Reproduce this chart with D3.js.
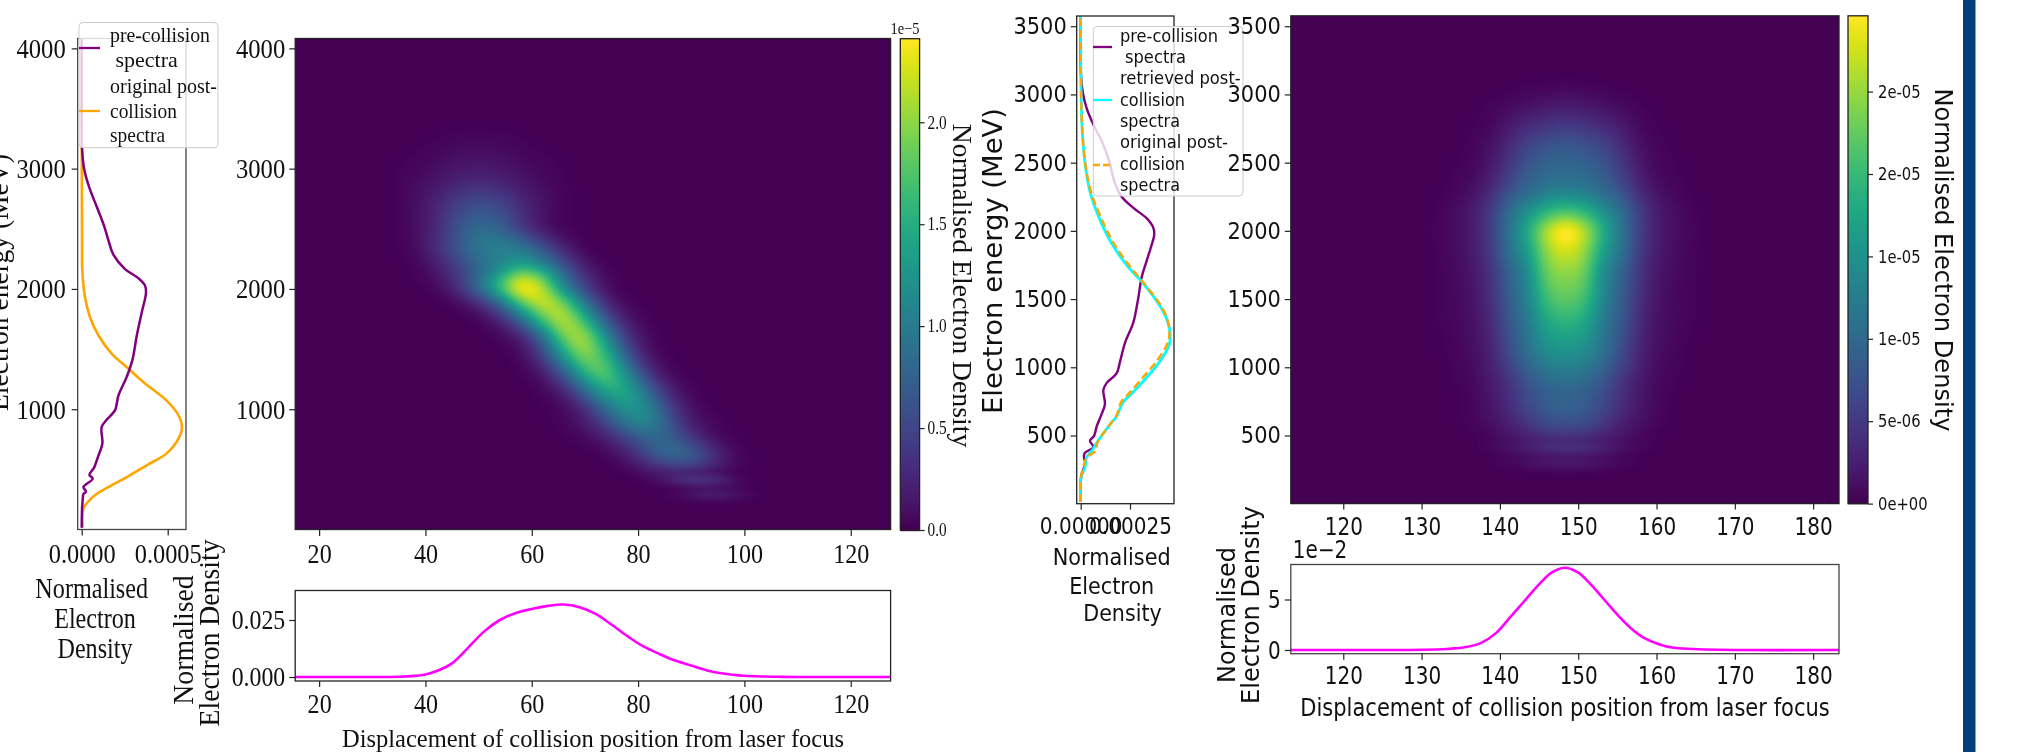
<!DOCTYPE html>
<html><head><meta charset="utf-8">
<script src="https://cdnjs.cloudflare.com/ajax/libs/d3/7.8.5/d3.min.js"></script>
<style>html,body{margin:0;padding:0;background:#fff}svg{display:block}</style>
</head><body>
<svg id="c" width="2021" height="752"></svg>
<script>
/* ---------- LEFT FIGURE ---------- */
const aSpecE   = [15,175,215,247,295,314,354,422,454,514,614,713,852,912,992,1112,1270,1410,1610,1810,1968,2028,2088,2165,2285,2405,2525,2685,2840,3000,3170,3400,4080];
const aPre     = [0,.000002,.000004,.000006,.00001,.000025,.00001,.000064,.000045,.000072,.000097,.00012,.000116,.000145,.000194,.000213,.000262,.000295,.00032,.00035,.000374,.000368,.00033,.000252,.000184,.000155,.00013,.000087,.000045,.000014,.000002,0,0];
const aPostE   = [15,175,247,295,434,534,633,753,852,952,1080,1213,1338,1462,1615,1767,1933,2154,2400,2800,4080];
const aPost    = [.000006,.00001,.000048,.000087,.00026,.000378,.000494,.000562,.000583,.000562,.000488,.000368,.000271,.000174,.000097,.000048,.000019,.0000035,.000002,.000001,0];
const aLineX   = [15.5,30,35,38,40,42,45,48,51,54,57,60,63,66,69,72,75,78,81,84,87,90,93,96,99,102,106,110,127.5];
const aLineV   = [0,0,.0001,.0005,.0011,.0025,.006,.0128,.0199,.025,.0281,.0298,.0312,.0318,.0306,.0277,.023,.0179,.0134,.0101,.0072,.005,.0029,.0015,.0007,.0003,.0001,0,0];
const aHeatX   = [34,38,42,46,50,54,58,62,66,70,74,78,82,86,90,94,98,102,106,110];
const aHeatE   = [180,230,290,350,410,470,550,650,760,880,1000,1150,1300,1450,1600,1750,1900,2000,2100,2200,2350,2500,2700,2900,3100,3300,3500];
const aHeat = [ /* 1e-5, one row per aHeatE, one column per aHeatX */
[0,0,0,0,0,0,0,0,0,0,0,0,0,0,0,0,0,0,0,0],
[0,0,0,0,0,0,0,0,0,0,0,0,0,0,0,.01,0,0,0,0],
[0,0,0,0,0,0,0,0,0,0,0,0,0,.04,.15,.24,.15,.03,0,0],
[0,0,0,0,0,0,0,0,0,0,0,0,0,0,.03,.03,.02,0,0,0],
[0,0,0,0,0,0,0,0,0,0,0,0,.05,.22,.42,.38,.11,.01,0,0],
[0,0,0,0,0,0,0,0,0,0,0,.03,.12,.18,.16,.08,.02,0,0,0],
[0,0,0,0,0,0,0,0,0,0,.02,.1,.3,.51,.51,.28,.07,.01,0,0],
[0,0,0,0,0,0,0,0,0,.01,.06,.25,.59,.82,.67,.3,.06,.01,0,0],
[0,0,0,0,0,0,0,0,.01,.05,.19,.47,.7,.68,.35,.1,.02,0,0,0],
[0,0,0,0,0,0,0,.01,.04,.17,.48,.89,1.05,.6,.2,.05,.01,0,0,0],
[0,0,0,0,0,0,0,.01,.06,.29,.78,1.2,1.04,.45,.1,.02,0,0,0,0],
[0,0,0,0,0,0,0,.04,.23,.75,1.35,1.35,.75,.23,.04,0,0,0,0,0],
[0,0,0,0,0,0,.02,.16,.66,1.46,1.72,1.06,.35,.06,.01,0,0,0,0,0],
[0,0,0,0,0,.01,.08,.45,1.27,1.89,1.49,.62,.13,.02,0,0,0,0,0,0],
[0,0,0,0,0,.05,.22,.8,1.8,1.98,1.1,.36,.06,0,0,0,0,0,0,0],
[0,0,0,0,.05,.25,.8,1.65,2.1,1.45,.6,.15,.02,0,0,0,0,0,0,0],
[0,0,0,.07,.3,.85,1.75,2.17,1.75,.85,.25,.03,0,0,0,0,0,0,0,0],
[0,.01,.06,.3,.85,1.6,2.38,2.05,1.1,.45,.1,0,0,0,0,0,0,0,0,0],
[0,.02,.1,.35,.77,1.4,2.05,1.75,.85,.34,.07,0,0,0,0,0,0,0,0,0],
[.01,.03,.18,.45,.77,1,1.3,1,.55,.15,.02,0,0,0,0,0,0,0,0,0],
[.01,.07,.3,.6,.92,1,.9,.55,.2,.02,0,0,0,0,0,0,0,0,0,0],
[.01,.08,.26,.57,.79,.72,.4,.14,.03,.01,0,0,0,0,0,0,0,0,0,0],
[.02,.09,.23,.43,.55,.48,.28,.12,.03,.01,0,0,0,0,0,0,0,0,0,0],
[.02,.06,.13,.21,.25,.21,.13,.06,.02,0,0,0,0,0,0,0,0,0,0,0],
[.01,.02,.05,.09,.1,.09,.05,.02,.01,0,0,0,0,0,0,0,0,0,0,0],
[0,0,.01,.02,.02,.02,.01,0,0,0,0,0,0,0,0,0,0,0,0,0],
[0,0,0,0,0,0,0,0,0,0,0,0,0,0,0,0,0,0,0,0]];
const aCbTicks = [0,.5,1,1.5,2];
const aEnergyTicks = [1000,2000,3000,4000];
const aXTicks  = [20,40,60,80,100,120];

/* ---------- RIGHT FIGURE ---------- */
const bPreE    = [12,207,296,335,371,416,461,497,566,656,730,835,886,955,1045,1180,1329,1509,1659,1778,1898,1973,2024,2093,2168,2250,2347,2510,2660,2780,2900,3020,3186,3575];
const bPre     = [0,.000003,.000024,.000017,.00002,.000064,.000047,.000068,.000081,.000106,.000123,.000115,.000132,.000182,.0002,.000225,.000267,.000292,.000309,.000334,.00036,.000373,.000368,.000334,.000267,.000208,.000174,.000145,.000106,.000064,.00003,.00001,0,0];
const bRetE    = [12,192,266,341,386,446,581,641,745,820,925,1045,1165,1240,1344,1449,1614,1748,1928,2108,2287,2497,2737,3006,3575];
const bRet     = [0,.000002,.000022,.00003,.000056,.000081,.000149,.000182,.000216,.000267,.000334,.000402,.000449,.000454,.000439,.000402,.000318,.000233,.000149,.00009,.000047,.000022,.000008,.000002,0];
const bOrig    = [0,.000002,.000012,.000032,.000075,.000085,.000148,.00018,.000205,.000252,.000315,.000385,.000437,.00045,.000441,.000408,.000322,.000245,.00016,.0001,.000052,.000023,.000008,.000002,0];
const bLineX   = [113.3,125,130,133.2,135.7,137.6,139.5,141.4,143.3,145.2,146.7,148.3,149.9,151.4,153.3,155.2,157.1,158.4,160.3,162,164.6,167.8,183.3];
const bLineV   = [0,0,.02,.1,.29,.71,1.67,3.33,5,6.67,7.7,8.14,7.7,6.67,5,3.33,1.9,1.2,.57,.24,.1,.02,0];
const bHeatCentre = 148.4;
const bHeatOffsets = [0,2.4,4.8,7.2,9.6,12,14.4,16.8,19.2];
const bHeatE  = [180,230,285,350,400,460,520,600,700,800,900,1000,1100,1250,1400,1550,1700,1850,2000,2150,2300,2450,2600,2750,2900,3050,3200];
const bHeat = [ /* 1e-5, half profile from the ridge outwards, mirrored to both sides */
[0,0,0,0,0,0,0,0,0],
[.03,.02,.01,0,0,0,0,0,0],
[.22,.19,.13,.06,.02,0,0,0,0],
[.14,.12,.08,.04,.01,0,0,0,0],
[.45,.4,.28,.15,.06,.01,0,0,0],
[.3,.27,.2,.11,.05,.01,0,0,0],
[.5,.47,.33,.2,.07,.02,0,0,0],
[.74,.68,.47,.27,.12,.04,.01,0,0],
[.89,.83,.62,.36,.16,.05,.01,0,0],
[.92,.86,.68,.38,.18,.05,.01,0,0],
[1.07,1,.77,.44,.2,.07,.02,0,0],
[1.27,1.18,.92,.56,.25,.08,.03,0,0],
[1.48,1.39,1.07,.65,.27,.1,.03,.01,0],
[1.72,1.6,1.15,.74,.31,.12,.05,.01,0],
[2.01,1.84,1.24,.8,.35,.13,.06,.02,0],
[2.25,2.07,1.36,.86,.4,.15,.06,.02,0],
[2.43,2.25,1.42,.92,.42,.17,.07,.02,0],
[2.72,2.43,1.63,1.07,.49,.2,.08,.02,0],
[2.96,2.55,1.78,1.1,.52,.21,.09,.03,0],
[2.01,1.84,1.42,1.01,.49,.2,.08,.02,0],
[1.24,1.18,.98,.7,.33,.12,.04,.01,0],
[1,.95,.8,.5,.2,.06,.02,0,0],
[.83,.77,.62,.37,.14,.04,.01,0,0],
[.53,.47,.38,.22,.07,.02,0,0,0],
[.24,.21,.15,.09,.03,.01,0,0,0],
[.06,.04,.03,.01,0,0,0,0,0],
[0,0,0,0,0,0,0,0,0]];
const bCbTicks = [0,.5,1,1.5,2,2.5];
const bCbLabels = ["0e+00","5e-06","1e-05","1e-05","2e-05","2e-05"];
const bEnergyTicks = [500,1000,1500,2000,2500,3000,3500];
const bXTicks  = [120,130,140,150,160,170,180];

const SERIF = "'Liberation Serif'", SANS = "'DejaVu Sans'";
const svg = d3.select("#c");
const root = svg.append("g").style("filter","blur(0.45px)");

/* helpers */
function squeeze(sel, factor){ sel.each(function(){ const l=this.getComputedTextLength();
  d3.select(this).attr("textLength",l*factor).attr("lengthAdjust","spacingAndGlyphs"); }); }
function label(t,cx,cy,o){
  const s=root.append("text").text(t).attr("text-anchor",o.anchor||"middle").attr("dominant-baseline","central")
    .attr("font-family",o.family).attr("font-size",o.size).attr("fill","#111").style("white-space","pre")
    .attr("transform",`translate(${cx},${cy})`+(o.rotate?` rotate(${o.rotate})`:""));
  if(o.width) s.attr("textLength",o.width).attr("lengthAdjust","spacingAndGlyphs");
  return s;
}
function frame(x0,y0,x1,y1,col){ root.append("rect").attr("x",x0).attr("y",y0).attr("width",x1-x0).attr("height",y1-y0)
  .attr("fill","none").attr("stroke",col||"#222").attr("stroke-width",1.3); }
function axis(gen,tx,ty,o){
  const g=root.append("g").attr("transform",`translate(${tx},${ty})`).call(gen.tickSize(o.len||6).tickPadding(o.pad||4));
  g.select(".domain").remove();
  g.selectAll("line").attr("stroke",o.tick||"#222").attr("stroke-width",1.2);
  g.selectAll("text").attr("font-family",o.family).attr("font-size",o.size).attr("fill","#111");
  if(o.squeeze) squeeze(g.selectAll("text"),o.squeeze);
  return g;
}
/* smooth (Catmull-Rom) sampling of a read-off grid */
function cr(p0,p1,p2,p3,t){ return .5*(2*p1+(p2-p0)*t+(2*p0-5*p1+4*p2-p3)*t*t+(3*p1-p0-3*p2+p3)*t*t*t); }
function loc(a,v){ let i=d3.bisectRight(a,v)-1; i=Math.max(0,Math.min(a.length-2,i)); return [i,(v-a[i])/(a[i+1]-a[i])]; }
function sampler(xs,ys,grid){
  const at=(r,c)=>grid[Math.max(0,Math.min(ys.length-1,r))][Math.max(0,Math.min(xs.length-1,c))];
  return (x,y)=>{
    if(x<xs[0]||x>xs[xs.length-1]||y<ys[0]||y>ys[ys.length-1]) return 0;
    const [i,u]=loc(xs,x),[j,v]=loc(ys,y),col=[];
    for(let k=-1;k<3;k++) col.push(cr(at(j+k,i-1),at(j+k,i),at(j+k,i+1),at(j+k,i+2),u));
    return Math.max(0,cr(col[0],col[1],col[2],col[3],v));
  };
}
/* the grid is smoothed more above splitE than below, where the thin stripes are */
function heat(x,y,f,colour,rx,ryHigh,ryLow,splitE,gain){
  const [x0,x1]=x.range(),[y1,y0]=y.range(),w=Math.round(x1-x0),h=Math.round(y1-y0);
  const field=new Float64Array(w*h);
  for(let r=0;r<h;r++)for(let c=0;c<w;c++) field[r*w+c]=f(x.invert(x0+c+.5),y.invert(y0+r+.5));
  const high=Float64Array.from(field),low=Float64Array.from(field);
  if(d3.blur2){ d3.blur2({data:high,width:w,height:h},rx,ryHigh); d3.blur2({data:low,width:w,height:h},rx,ryLow); }
  const splitY=y(splitE)-y0;
  const cv=document.createElement("canvas");cv.width=w;cv.height=h;
  const ctx=cv.getContext("2d"),img=ctx.createImageData(w,h);
  for(let r=0;r<h;r++){
    const m=Math.max(0,Math.min(1,(r-splitY)/25+.5));
    for(let c=0;c<w;c++){
      const i=r*w+c,val=(high[i]*(1-m)+low[i]*m)*gain;
      const col=d3.rgb(colour(val)),o=i*4;
      img.data[o]=col.r;img.data[o+1]=col.g;img.data[o+2]=col.b;img.data[o+3]=255;
    }
  }
  ctx.putImageData(img,0,0);
  root.append("image").attr("x",x0).attr("y",y0).attr("width",x1-x0).attr("height",y1-y0)
    .attr("preserveAspectRatio","none").attr("href",cv.toDataURL());
}
function colorbar(scale,x0,x1,colour){
  const [b,t]=scale.range();
  root.append("g").selectAll("rect").data(d3.range(t,b,1)).join("rect")
    .attr("x",x0).attr("width",x1-x0).attr("y",d=>d).attr("height",1.5)
    .attr("fill",d=>colour(scale.invert(d+.5)));
}
function curve(xs,ys,x,y,col,w,dash,along){
  const l=d3.line().curve(d3.curveCatmullRom.alpha(.5)).x((d,i)=>x(along==="y"?d:xs[i])).y((d,i)=>y(along==="y"?ys[i]:d));
  const data=along==="y"?xs:ys;
  const p=root.append("path").datum(data).attr("d",l).attr("fill","none").attr("stroke",col).attr("stroke-width",w);
  if(dash)p.attr("stroke-dasharray",dash);
}
function legend(r,lines,rows,o){
  root.append("rect").attr("x",r[0]).attr("y",r[1]).attr("width",r[2]-r[0]).attr("height",r[3]-r[1]).attr("rx",4)
    .attr("fill","#fff").attr("fill-opacity",.8).attr("stroke","#ccc").attr("stroke-width",1);
  lines.forEach(l=>{const s=root.append("line").attr("x1",l.x0).attr("x2",l.x1).attr("y1",l.y).attr("y2",l.y).attr("stroke",l.col).attr("stroke-width",2.3);if(l.dash)s.attr("stroke-dasharray",l.dash);});
  rows.forEach(t=>label(t[0],t[1],t[2],{family:o.family,size:o.size,anchor:"start",width:t[3]}));
}

/* ===== Left figure ===== */
{
  const eY=d3.scaleLinear().domain([0,4082]).range([529.5,38.5]);
  const specX=d3.scaleLinear().domain([0,.0005]).range([81.7,167.7]);
  const hx=d3.scaleLinear().domain([15.5,127.5]).range([295.2,890.6]);
  const lineY=d3.scaleLinear().domain([0,.025]).range([677,620]);
  const cb=d3.scaleLinear().domain([0,2.41]).range([530,38.7]);
  const col=d3.scaleSequential(d3.interpolateViridis).domain([0,2.41]);

  /* spectra */
  curve(aPost,aPostE,specX,eY,"orange",2.6,null,"y");
  curve(aPre,aSpecE,specX,eY,"purple",2.5,null,"y");
  frame(77.7,38.5,186,529.5,"#444");
  axis(d3.axisLeft(eY).tickValues(aEnergyTicks).tickFormat(d3.format("d")),77.7,0,{family:SERIF,size:28,squeeze:.88,pad:6});
  axis(d3.axisBottom(specX).tickValues([0,.0005]).tickFormat(d3.format(".4f")),0,529.5,{family:SERIF,size:28,squeeze:.87,pad:8});
  legend([79,22.5,218,147.7],
    [{x0:79,x1:100,y:48,col:"purple"},{x0:79,x1:100,y:111,col:"orange"}],
    [["pre-collision",110,34.5,100],[" spectra",110,59,null],["original post-",110,85.4,107],["collision",110,110,67],["spectra",110,134,55]],
    {family:SERIF,size:22});
  label("Electron energy (MeV)",-3,282.5,{family:SERIF,size:30,rotate:-90,width:257});
  label("Normalised",91.7,587.5,{family:SERIF,size:29,width:112.7});
  label("Electron",95,617.7,{family:SERIF,size:29,width:81.7});
  label("Density",95,648.4,{family:SERIF,size:29,width:75});

  /* heat map */
  heat(hx,eY,sampler(aHeatX,aHeatE,aHeat),col,7,6,3,600,1.05);
  frame(295.2,38.5,890.6,529.5);
  axis(d3.axisLeft(eY).tickValues(aEnergyTicks).tickFormat(d3.format("d")),295.2,0,{family:SERIF,size:28,squeeze:.88});
  axis(d3.axisBottom(hx).tickValues(aXTicks),0,530,{family:SERIF,size:28,squeeze:.86,pad:7});

  /* colour bar */
  colorbar(cb,900.3,919.6,col);
  frame(900.3,38.7,919.6,530);
  axis(d3.axisRight(cb).tickValues(aCbTicks).tickFormat(d3.format(".1f")),919.6,0,{family:SERIF,size:18,squeeze:.85,len:5,pad:3});
  label("1e\u22125",905,28,{family:SERIF,size:16,width:29});
  label("Normalised Electron Density",962,285.5,{family:SERIF,size:27,rotate:90,width:323.5});

  /* profile */
  curve(aLineX,aLineV,hx,lineY,"magenta",2.6);
  frame(295.2,590.5,890.6,681);
  axis(d3.axisLeft(lineY).tickValues([0,.025]).tickFormat(d3.format(".3f")),295.2,0,{family:SERIF,size:28,squeeze:.85});
  axis(d3.axisBottom(hx).tickValues(aXTicks),0,681,{family:SERIF,size:28,squeeze:.86,pad:6});
  label("Displacement of collision position from laser focus",593,738,{family:SERIF,size:26,width:502});
  label("Normalised",183,640,{family:SERIF,size:29,rotate:-90,width:129.5});
  label("Electron Density",209,633,{family:SERIF,size:29,rotate:-90,width:187});
}

/* ===== Right figure ===== */
{
  const eY=d3.scaleLinear().domain([0,3575]).range([503.7,16]);
  const specX=d3.scaleLinear().domain([0,.00025]).range([1080.7,1130]);
  const hx=d3.scaleLinear().domain([113.3,183.3]).range([1290.8,1839]);
  const lineY=d3.scaleLinear().domain([0,5]).range([650,599.5]);
  const cb=d3.scaleLinear().domain([0,2.96]).range([503.6,15.8]);
  const col=d3.scaleSequential(d3.interpolateViridis).domain([0,2.96]);

  curve(bPre,bPreE,specX,eY,"purple",2.4,null,"y");
  curve(bRet,bRetE,specX,eY,"cyan",2.8,null,"y");
  curve(bOrig,bRetE,specX,eY,"orange",2.4,"8,4","y");
  frame(1076.7,16,1174,503.7,"#222");
  axis(d3.axisLeft(eY).tickValues(bEnergyTicks).tickFormat(d3.format("d")),1076.7,0,{family:SANS,size:23,squeeze:.91,len:6});
  axis(d3.axisBottom(specX).tickValues([0,.00025]).tickFormat(d3.format(".5f")),0,503.7,{family:SANS,size:23,squeeze:.87,pad:8});
  legend([1093.3,26.5,1243,196],
    [{x0:1093,x1:1112,y:47,col:"purple"},{x0:1093,x1:1112,y:100,col:"cyan"},{x0:1093,x1:1112,y:165,col:"orange",dash:"7,3"}],
    [["pre-collision",1120,36,98],["spectra",1125,57,61],["retrieved post-",1120,78.4,120.7],["collision",1120,99.6,65],["spectra",1120,120.8,60],["original post-",1120,142.4,108],["collision",1120,163.7,65],["spectra",1120,185,60]],
    {family:SANS,size:17.5});
  label("Electron energy (MeV)",992.7,261,{family:SANS,size:26,rotate:-90,width:306});
  label("Normalised",1111.7,557,{family:SANS,size:23,width:118});
  label("Electron",1111.7,585.7,{family:SANS,size:23,width:85});
  label("Density",1122.5,613,{family:SANS,size:23,width:78.5});

  /* heat map: half profile mirrored about the ridge */
  const xs=[...bHeatOffsets.slice(1).reverse().map(d=>bHeatCentre-d),...bHeatOffsets.map(d=>bHeatCentre+d)];
  const grid=bHeat.map(r=>[...r.slice(1).reverse(),...r]);
  heat(hx,eY,sampler(xs,bHeatE,grid),col,5,4,3,600,1.02);
  frame(1290.8,15.8,1839,503.6);
  axis(d3.axisLeft(eY).tickValues(bEnergyTicks).tickFormat(d3.format("d")),1290.8,0,{family:SANS,size:23,squeeze:.91,len:6});
  axis(d3.axisBottom(hx).tickValues(bXTicks),0,503.6,{family:SANS,size:25,squeeze:.8,pad:8});

  colorbar(cb,1848,1868,col);
  frame(1848,15.8,1868,503.6);
  axis(d3.axisRight(cb).tickValues(bCbTicks).tickFormat((d,i)=>bCbLabels[i]),1868,0,{family:SANS,size:18,squeeze:.82,len:5,pad:5});
  label("Normalised Electron Density",1943,260,{family:SANS,size:24,rotate:90,width:343});

  curve(bLineX,bLineV,hx,lineY,"magenta",2.6);
  frame(1290.8,564.5,1839,653.7,"#444");
  axis(d3.axisLeft(lineY).tickValues([0,5]).tickFormat(d3.format("d")),1290.8,0,{family:SANS,size:25,squeeze:.8});
  axis(d3.axisBottom(hx).tickValues(bXTicks),0,653.7,{family:SANS,size:25,squeeze:.8,pad:7});
  label("1e\u22122",1320,550,{family:SANS,size:24,width:54.5});
  label("Displacement of collision position from laser focus",1565,707.5,{family:SANS,size:25,width:529.5});
  label("Normalised",1226,615,{family:SANS,size:25,rotate:-90,width:136});
  label("Electron Density",1250,605,{family:SANS,size:25,rotate:-90,width:198});

  root.append("rect").attr("x",1963).attr("y",0).attr("width",12.5).attr("height",752).attr("fill","#023f7c");
}
</script>
</body></html>
